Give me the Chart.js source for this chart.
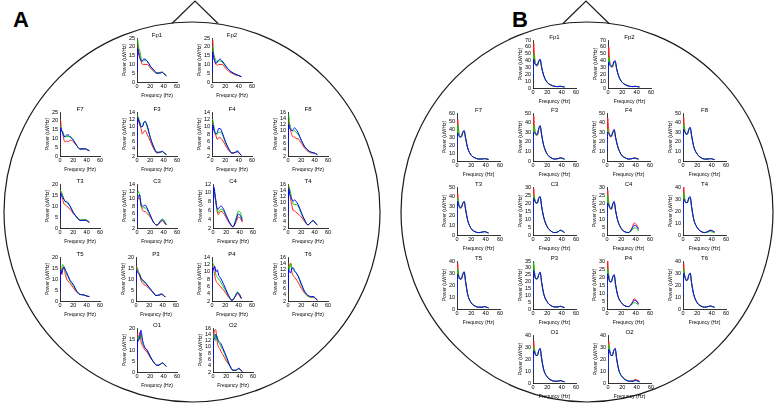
<!DOCTYPE html>
<html><head><meta charset="utf-8">
<script src="https://cdn.jsdelivr.net/npm/chart.js@4"></script>
<style>
html,body{margin:0;padding:0;background:#fff;}
#stage{position:relative;width:778px;height:403px;overflow:hidden;background:#fff;}
#stage canvas{position:absolute;}
#head{position:absolute;left:0;top:0;}
.panel{position:absolute;font:bold 22px Arial,"Liberation Sans",sans-serif;color:#000;line-height:22px;}
</style></head><body>
<div id="stage">
<svg id="head" width="778" height="403">
  <ellipse cx="192" cy="212" rx="188" ry="190" fill="none" stroke="#1a1a1a" stroke-width="1.2"/>
  <polyline points="172,23.5 195,1 218,23.5" fill="none" stroke="#1a1a1a" stroke-width="1.2"/>
  <ellipse cx="587" cy="212" rx="186" ry="190" fill="none" stroke="#1a1a1a" stroke-width="1.2"/>
  <polyline points="563,23.5 586,1 609,23.5" fill="none" stroke="#1a1a1a" stroke-width="1.2"/>
</svg>
<div class="panel" style="left:13px;top:9px">A</div>
<div class="panel" style="left:512px;top:9px">B</div>
</div>
<script>
// ---- data ----
const freq = [0, 1, 2, 3, 4, 6, 8, 10, 12, 15, 20, 25, 30, 35, 38, 41, 44];
const xTicks = [0, 20, 40, 60];
const channels = ["Fp1","Fp2","F7","F3","F4","F8","T3","C3","C4","T4","T5","P3","P4","T6","O1","O2"];
const seriesColors = ["#ff2020", "#00d000", "#0000ff"];

// Panel A y-axis ranges
const A_yMin  = [0, 0, 0, 2, 2, 2, 0, 2, 2, 2, 0, 0, 2, 2, 0, 2];
const A_yMax  = [25, 25, 25, 14, 14, 16, 20, 14, 12, 16, 20, 20, 14, 16, 20, 16];
const A_yStep = [5, 5, 5, 2, 2, 2, 5, 2, 2, 2, 5, 5, 2, 2, 5, 2];
// Panel B y-axis ranges
const B_yMin  = [0, 0, 0, 0, 0, 0, 0, 0, 0, 0, 0, 0, 0, 0, 0, 0];
const B_yMax  = [70, 70, 60, 50, 50, 50, 50, 30, 30, 40, 40, 35, 30, 40, 40, 40];
const B_yStep = [10, 10, 10, 10, 10, 10, 10, 5, 5, 10, 10, 5, 5, 10, 10, 10];

// Panel A values (red, green, blue)
const A_Fp1_r = [22, 22, 19, 17, 15, 12, 10, 10, 10, 10, 8, 6, 5, 5.5, 5.5, 4.5, 3.5];
const A_Fp1_g = [24, 24, 21, 19, 18, 14, 12, 12, 12.5, 12, 9, 6.5, 5, 5.5, 5.5, 4.5, 3.8];
const A_Fp1_b = [5, 19, 17, 15, 14, 12, 12, 13, 13, 12, 9, 7, 5, 5, 5.5, 4.5, 3.5];
const A_Fp2_r = [24, 24, 18, 14, 12, 10, 9.5, 10, 10, 10, 8, 6, 5, 4, 3.8, 3.5, 3];
const A_Fp2_g = [20, 20, 17, 15, 14, 12, 11, 12, 12, 11.5, 9, 7, 5.5, 4.5, 4, 3.5, 3];
const A_Fp2_b = [5, 17, 15, 13, 12, 10.5, 11.5, 12.5, 13, 12, 9.5, 7, 5.5, 4.5, 4, 3.5, 3];
const A_F7_r = [20, 20, 15, 14, 13, 9, 8, 8.5, 8, 9, 8, 6, 4, 4, 4, 3.5, 3];
const A_F7_g = [17, 17, 15, 14.5, 14, 12, 11, 11, 11, 11, 9, 6, 4, 4, 4, 3.5, 3];
const A_F7_b = [8, 16, 15, 14, 13, 11, 11, 12, 12, 11, 9, 6, 4, 4, 4.2, 3.5, 3];
const A_F3_r = [12.5, 12.5, 12, 11, 10.5, 9.5, 8, 8.5, 9, 8, 6, 4, 2.8, 3, 3.2, 2.7, 2.4];
const A_F3_g = [13, 13, 12.5, 12, 11.5, 10, 10, 11, 11.3, 10, 7, 4.5, 3, 3, 3.2, 2.8, 2.4];
const A_F3_b = [4, 12.5, 12, 11.5, 11, 10, 10, 11, 11.5, 10.5, 7, 4.5, 3, 3.1, 3.3, 2.8, 2.4];
const A_F4_r = [11, 11, 10, 9, 8.5, 7.5, 6.5, 7, 7, 6.5, 5, 3.5, 2.8, 3, 3.1, 2.7, 2.2];
const A_F4_g = [12, 12, 11, 10, 9, 8, 8, 8.5, 8.5, 8, 5.8, 4, 2.8, 3, 3.3, 2.7, 2.2];
const A_F4_b = [4, 10.5, 10, 9, 8.5, 8, 8.5, 9.5, 9.5, 8.5, 6, 4, 2.8, 3, 3.4, 2.8, 2.2];
const A_F8_r = [13, 13, 12, 11, 10, 8.5, 8, 8, 7.5, 7.5, 6, 4.5, 3.5, 3, 3, 2.8, 2.4];
const A_F8_g = [15, 15, 13, 12, 11, 10, 10, 10, 9.5, 9, 7, 5, 3.8, 3.2, 3, 2.8, 2.4];
const A_F8_b = [4, 12, 11, 10.5, 10.5, 10, 10.5, 11, 10.5, 9.5, 7, 5, 3.8, 3.2, 3, 2.8, 2.4];
const A_T3_r = [16.5, 16.5, 15, 14, 13, 11, 10.5, 10, 9.5, 8.5, 6.5, 5, 3.5, 3.5, 3.5, 3, 2.5];
const A_T3_g = [17, 17, 16.5, 16, 15, 13, 12, 11.5, 11, 10, 7, 5, 3.5, 3.8, 3.8, 3.5, 2.8];
const A_T3_b = [4, 16, 15, 14.5, 14, 13, 12, 12, 11.5, 10, 7, 5, 3.5, 3.5, 3.5, 3.2, 2.5];
const A_C3_r = [10.5, 10.5, 10, 10, 10, 8, 7, 6.5, 6.5, 6, 5, 3.5, 2.8, 3.5, 4, 3.5, 2.8];
const A_C3_g = [11.5, 11.5, 12, 11.5, 11, 8.5, 7.5, 7.5, 7.5, 7, 5.2, 3.5, 2.8, 4, 4.5, 4, 3];
const A_C3_b = [3, 10, 10.5, 11, 11, 8.5, 8, 8, 8.3, 7.5, 5.5, 3.5, 2.8, 3.8, 4.2, 3.5, 2.9];
const A_C4_r = [11, 11, 10.5, 9, 8, 6, 5, 5.5, 5.8, 5.5, 4.3, 3, 2.2, 3.5, 4.5, 4.2, 3.3];
const A_C4_g = [11, 11, 10.5, 9.5, 8.5, 6.5, 5.5, 6, 6.3, 6, 4.7, 3.2, 2.3, 4.5, 5.8, 5.5, 4];
const A_C4_b = [5.5, 11.3, 11, 9.5, 8.5, 6.5, 6.3, 6.8, 7, 6.5, 4.8, 3.2, 2.3, 4, 5.2, 4.8, 3.6];
const A_T4_r = [15, 15, 14, 12.5, 11, 9, 7.5, 7.5, 7, 6.5, 5.5, 4, 3, 4, 4.3, 3.5, 3];
const A_T4_g = [15.5, 15.5, 15, 14, 13, 11, 9.5, 9.5, 9.5, 9, 6.5, 4.5, 3, 4, 4.3, 3.5, 3];
const A_T4_b = [6, 14.5, 13.5, 12.5, 12, 11, 10.5, 11, 10.5, 9.5, 7, 4.5, 3, 4, 4.4, 3.6, 3];
const A_T5_r = [15, 15, 14, 12, 15, 15, 12, 10, 9, 8, 6, 4, 3, 2.8, 2.5, 2.2, 2];
const A_T5_g = [14, 14, 13, 15, 16.5, 15.5, 14, 12, 11, 9, 7, 4.5, 3, 2.8, 2.5, 2.2, 2];
const A_T5_b = [4, 14, 12.5, 13, 14, 15.5, 14, 13, 11.5, 9.5, 7.5, 4.5, 3, 2.8, 2.5, 2.2, 2];
const A_P3_r = [15.5, 15.5, 15, 14, 13, 11, 9, 8, 7.5, 7, 5.5, 4, 2.5, 2.5, 3, 2.5, 1.8];
const A_P3_g = [15, 15, 14, 13.5, 13, 12, 10, 9, 8.5, 8, 6, 4.2, 2.5, 2.8, 3.2, 2.7, 1.8];
const A_P3_b = [8, 14, 13, 12.8, 12.5, 11.5, 10, 9.5, 9, 8, 6, 4.2, 2.5, 2.8, 3.2, 2.7, 1.8];
const A_P4_r = [11.5, 11.5, 11, 10, 9, 7.5, 7, 6.5, 6, 5.5, 4.3, 3, 2.1, 3.3, 4, 3.5, 2.6];
const A_P4_g = [12.5, 12.5, 12, 11.5, 11, 9, 8.5, 8, 7.5, 6.5, 5, 3.3, 2.2, 3.5, 4.5, 4, 2.8];
const A_P4_b = [5, 11, 10.5, 11, 11.5, 10, 10.5, 9, 8.5, 7.5, 5.5, 3.5, 2.2, 3.3, 4.2, 3.8, 2.7];
const A_T6_r = [14, 14, 13, 13.5, 14, 11, 10, 9.5, 9, 8, 6, 4.5, 3.5, 3.2, 3.2, 2.8, 2.2];
const A_T6_g = [13, 13, 12, 13, 14, 12.5, 12, 11.5, 11, 10, 7, 5, 3.5, 3.3, 3.3, 2.8, 2.2];
const A_T6_b = [5, 12, 11.5, 11, 11, 12.5, 12.5, 11.5, 11, 10, 7.5, 5, 3.8, 3.4, 3.4, 3, 2.2];
const A_O1_r = [17, 17, 15, 16, 18, 14, 12, 11, 10, 9, 6.5, 4.5, 3, 3.5, 4, 3.5, 2.5];
const A_O1_g = [15, 15, 16, 15, 15, 17, 14, 12, 11, 10, 7, 4.5, 3, 3.5, 4, 3.5, 2.5];
const A_O1_b = [5, 15, 14, 15, 16, 19, 15, 12.5, 11, 10, 7, 4.5, 3, 3.5, 4.2, 3.5, 2.5];
const A_O2_r = [14, 14, 15, 15.5, 15.5, 12, 10, 9.5, 8.5, 7.5, 5.5, 4, 2.5, 2.5, 3, 2.7, 2.2];
const A_O2_g = [13, 13, 14, 13, 12, 13.5, 11.5, 11, 10, 9, 6.5, 4, 2.5, 2.5, 3, 2.7, 2.2];
const A_O2_b = [5, 12, 12.5, 13, 14, 13, 12, 11.5, 11, 9.5, 7, 4.2, 2.6, 2.6, 3.2, 2.8, 2.2];

// Panel B values (red, green, blue)
const B_Fp1_r = [25, 65, 50, 38, 33, 32, 38, 40, 30, 18, 8, 4, 2.5, 2, 2.5, 2, 1.5];
const B_Fp1_g = [20, 50, 42, 36, 33, 33, 38, 41, 30, 18, 8, 4.5, 2.5, 2, 2.5, 2, 1.5];
const B_Fp1_b = [15, 42, 36, 35, 34, 34, 40, 42, 31, 18, 8, 4.5, 2.5, 2, 2.5, 2, 1.5];
const B_Fp2_r = [25, 60, 45, 35, 32, 30, 36, 38, 28, 17, 8, 4, 2.5, 2, 2.5, 2, 1.5];
const B_Fp2_g = [20, 45, 38, 33, 31, 31, 37, 38, 28, 17, 8, 4.5, 2.5, 2, 2.5, 2, 1.5];
const B_Fp2_b = [15, 38, 34, 33, 32, 32, 38, 40, 29, 17, 8, 4.5, 2.5, 2, 2.5, 2, 1.5];
const B_F7_r = [20, 52, 42, 33, 30, 30, 35, 37, 28, 16, 7, 4, 2.5, 2.5, 3, 2.5, 2];
const B_F7_g = [18, 45, 38, 32, 30, 30, 35, 38, 28, 16, 7, 4, 2.5, 2.5, 3, 2.5, 2];
const B_F7_b = [15, 35, 33, 31, 30, 31, 36, 38, 29, 16, 7, 4, 2.5, 2.5, 3, 2.5, 2];
const B_F3_r = [18, 47, 38, 30, 27, 27, 33, 36, 27, 16, 7, 3.5, 2, 2.5, 3.5, 3, 2];
const B_F3_g = [15, 37, 33, 29, 27, 27, 33, 36, 27, 16, 7, 3.5, 2, 2.5, 3, 2.5, 2];
const B_F3_b = [12, 30, 30, 29, 28, 28, 34, 37, 28, 16, 7, 3.5, 2, 2.5, 3.2, 2.8, 2];
const B_F4_r = [18, 45, 36, 29, 26, 25, 29, 31, 24, 15, 6.5, 3.5, 2, 2.5, 3.5, 3, 2];
const B_F4_g = [15, 33, 30, 28, 26, 26, 30, 32, 24, 15, 6.5, 3.5, 2, 2.5, 3, 2.5, 2];
const B_F4_b = [10, 30, 29, 28, 26, 26, 30, 33, 25, 15, 6.5, 3.5, 2, 2.5, 3, 2.5, 2];
const B_F8_r = [18, 45, 36, 30, 28, 28, 32, 34, 26, 15, 7, 3.5, 2, 2, 2.5, 2, 1.5];
const B_F8_g = [15, 38, 33, 30, 28, 28, 33, 35, 26, 15, 7, 3.5, 2, 2, 2.5, 2, 1.5];
const B_F8_b = [12, 33, 31, 30, 28, 28, 33, 35, 27, 15, 7, 3.5, 2, 2, 2.5, 2, 1.5];
const B_T3_r = [18, 43, 36, 30, 28, 28, 32, 34, 26, 15, 6.5, 3.5, 2.5, 3, 3.5, 3, 2];
const B_T3_g = [15, 38, 34, 30, 28, 29, 33, 35, 27, 15, 6.5, 3.5, 2.5, 3, 3.5, 3, 2];
const B_T3_b = [12, 35, 32, 30, 29, 29, 33, 35, 27, 15, 6.5, 3.5, 2.5, 3, 3.5, 3, 2];
const B_C3_r = [10, 29, 24, 21, 20, 20, 23, 23.5, 18, 11, 5, 2.5, 1.5, 2, 3, 2.5, 1.5];
const B_C3_g = [9, 25, 23, 21, 20, 20, 23, 24, 18, 11, 5, 2.5, 1.5, 2, 2.8, 2.3, 1.5];
const B_C3_b = [8, 23, 22, 21, 20, 20, 23, 24, 18, 11, 5, 2.5, 1.5, 2, 3, 2.5, 1.5];
const B_C4_r = [10, 28, 22, 19, 17, 16, 19, 20, 15, 9, 4, 2, 1.5, 4.5, 7.5, 6.5, 4];
const B_C4_g = [9, 25, 21, 18, 17, 16, 19, 20.5, 15, 9, 4, 2, 1.5, 3, 4.5, 4, 2.5];
const B_C4_b = [8, 20, 19, 18, 17, 16.5, 19.5, 21, 15.5, 9, 4, 2, 1.5, 4, 6, 5.5, 3.5];
const B_T4_r = [15, 40, 33, 28, 27, 27, 30, 31, 23, 13, 6, 3, 2, 3, 4, 3.5, 2.5];
const B_T4_g = [12, 35, 31, 28, 27, 27, 30, 31, 23, 13, 6, 3, 2, 2.5, 3, 2.5, 2];
const B_T4_b = [10, 30, 29, 28, 27, 27, 31, 32, 24, 13, 6, 3, 2, 3, 4, 3.5, 2.5];
const B_T5_r = [14, 38, 30, 26, 25, 25, 28, 30, 22, 12, 5, 2.5, 1.5, 1.5, 2, 1.5, 1];
const B_T5_g = [12, 33, 29, 26, 25, 25, 29, 31, 23, 12, 5, 2.5, 1.5, 1.5, 2, 1.5, 1];
const B_T5_b = [10, 29, 28, 26, 25, 25, 29, 31, 23, 12, 5, 2.5, 1.5, 1.5, 2, 1.5, 1];
const B_P3_r = [12, 32, 27, 23, 22, 22, 25, 26, 19, 11, 5, 2.5, 1.5, 1.5, 2, 1.5, 1];
const B_P3_g = [10, 34, 28, 23, 22, 22, 25, 26, 19, 11, 5, 2.5, 1.5, 1.5, 2, 1.5, 1];
const B_P3_b = [8, 28, 26, 23, 22, 22, 25, 27, 20, 11, 5, 2.5, 1.5, 1.5, 2, 1.5, 1];
const B_P4_r = [10, 30, 23, 19, 17, 17, 20, 21, 15, 8.5, 4, 2, 1.5, 4, 6.5, 5.5, 3.5];
const B_P4_g = [9, 25, 22, 19, 17, 17, 20, 21, 15, 8.5, 4, 2, 1.5, 3, 4, 3.5, 2.5];
const B_P4_b = [8, 22, 20, 18, 17, 17, 20, 21.5, 15.5, 8.5, 4, 2, 1.5, 3.5, 5.5, 5, 3];
const B_T6_r = [14, 38, 30, 26, 24, 24, 28, 29, 21, 12, 5, 2.5, 1.5, 2, 2.5, 2, 1.5];
const B_T6_g = [12, 33, 29, 26, 24, 24, 28, 30, 22, 12, 5, 2.5, 1.5, 2, 2.5, 2, 1.5];
const B_T6_b = [10, 30, 28, 26, 24, 24, 28, 30, 22, 12, 5, 2.5, 1.5, 2, 2.5, 2, 1.5];
const B_O1_r = [13, 35, 29, 25, 23, 23, 27, 28, 20, 11, 5, 2.5, 1.5, 1.5, 2, 1.5, 1];
const B_O1_g = [11, 30, 27, 25, 23, 23, 27, 28, 20, 11, 5, 2.5, 1.5, 1.5, 2, 1.5, 1];
const B_O1_b = [9, 27, 26, 24, 23, 23, 27, 29, 21, 11, 5, 2.5, 1.5, 1.5, 2, 1.5, 1];
const B_O2_r = [13, 35, 29, 25, 23, 23, 27, 28, 20, 11, 5, 2.5, 1.5, 2, 3, 2.5, 1.5];
const B_O2_g = [11, 32, 28, 25, 23, 23, 27, 28, 20, 11, 5, 2.5, 1.5, 1.5, 2, 1.5, 1];
const B_O2_b = [9, 28, 27, 25, 23, 23, 27, 29, 21, 11, 5, 2.5, 1.5, 1.5, 2.2, 1.8, 1];

// ---- tables built from the arrays ----
const A_series = [
  [A_Fp1_r, A_Fp1_g, A_Fp1_b], [A_Fp2_r, A_Fp2_g, A_Fp2_b],
  [A_F7_r, A_F7_g, A_F7_b], [A_F3_r, A_F3_g, A_F3_b], [A_F4_r, A_F4_g, A_F4_b], [A_F8_r, A_F8_g, A_F8_b],
  [A_T3_r, A_T3_g, A_T3_b], [A_C3_r, A_C3_g, A_C3_b], [A_C4_r, A_C4_g, A_C4_b], [A_T4_r, A_T4_g, A_T4_b],
  [A_T5_r, A_T5_g, A_T5_b], [A_P3_r, A_P3_g, A_P3_b], [A_P4_r, A_P4_g, A_P4_b], [A_T6_r, A_T6_g, A_T6_b],
  [A_O1_r, A_O1_g, A_O1_b], [A_O2_r, A_O2_g, A_O2_b]
];
const B_series = [
  [B_Fp1_r, B_Fp1_g, B_Fp1_b], [B_Fp2_r, B_Fp2_g, B_Fp2_b],
  [B_F7_r, B_F7_g, B_F7_b], [B_F3_r, B_F3_g, B_F3_b], [B_F4_r, B_F4_g, B_F4_b], [B_F8_r, B_F8_g, B_F8_b],
  [B_T3_r, B_T3_g, B_T3_b], [B_C3_r, B_C3_g, B_C3_b], [B_C4_r, B_C4_g, B_C4_b], [B_T4_r, B_T4_g, B_T4_b],
  [B_T5_r, B_T5_g, B_T5_b], [B_P3_r, B_P3_g, B_P3_b], [B_P4_r, B_P4_g, B_P4_b], [B_T6_r, B_T6_g, B_T6_b],
  [B_O1_r, B_O1_g, B_O1_b], [B_O2_r, B_O2_g, B_O2_b]
];

// ---- layout (positions of each small plot) ----
const A_axisX = [137, 212, 60, 137, 212, 288, 60, 137, 213, 288, 60, 136, 212, 288, 137, 213];
const A_plotTop = [38, 38, 112, 112, 112, 112, 184, 184, 184, 184, 257, 257, 257, 257, 328, 328];
const B_axisX = [533, 608, 457, 533, 607, 683, 457, 533, 607, 683, 457, 533, 607, 683, 533, 608];
const B_plotTop = [40, 40, 113, 113, 113, 113, 187, 187, 187, 187, 261, 261, 261, 261, 335, 335];

const FONT = 'Arial, "Liberation Sans", Helvetica, sans-serif';
const stage = document.getElementById('stage');
const YW = 15, TH = 7, XH = 16, RP = 7;

function makeChart(ax, top, W, H, name, yMin, yMax, yStep, series) {
  const c = document.createElement('canvas');
  c.width = YW + W + RP;
  c.height = TH + H + XH;
  c.style.left = (ax - YW) + 'px';
  c.style.top = (top - TH) + 'px';
  stage.appendChild(c);
  new Chart(c, {
    type: 'line',
    data: {
      datasets: series.map((vals, k) => ({
        data: freq.map((f, i) => ({ x: f, y: vals[i] })),
        borderColor: seriesColors[k],
        borderWidth: 1,
        pointRadius: 0,
        fill: false,
        order: 2 - k,
        cubicInterpolationMode: 'monotone'
      }))
    },
    options: {
      responsive: false,
      animation: false,
      events: [],
      layout: { padding: { left: 0, right: RP, top: 0, bottom: 0 } },
      plugins: {
        legend: { display: false },
        tooltip: { enabled: false },
        title: {
          display: true, text: name, color: '#000', fullSize: false,
          font: { family: FONT, size: 6, weight: 'normal', lineHeight: 1 },
          padding: { top: 1, bottom: 0 }
        }
      },
      scales: {
        x: {
          type: 'linear', min: 0, max: 60,
          afterBuildTicks: s => { s.ticks = xTicks.map(v => ({ value: v })); },
          ticks: { font: { family: FONT, size: 5.5 }, color: '#000', padding: 1, maxRotation: 0, autoSkip: false },
          grid: { display: false, drawTicks: false },
          border: { display: true, color: '#000', width: 0.8 },
          title: { display: true, text: 'Frequncy (Hz)', color: '#000', font: { family: FONT, size: 5, lineHeight: 1 }, padding: 0 },
          afterFit: s => { s.height = XH; }
        },
        y: {
          type: 'linear', min: yMin, max: yMax,
          ticks: { stepSize: yStep, font: { family: FONT, size: 5.5 }, color: '#000', padding: 2, autoSkip: false },
          grid: { display: false, drawTicks: false },
          border: { display: true, color: '#000', width: 0.8 },
          title: { display: true, text: 'Power (uV/Hz)', color: '#000', font: { family: FONT, size: 5, lineHeight: 1 }, padding: 0 },
          afterFit: s => { s.width = YW; }
        }
      }
    }
  });
}

channels.forEach((name, i) => {
  makeChart(A_axisX[i], A_plotTop[i], 40, 44, name, A_yMin[i], A_yMax[i], A_yStep[i], A_series[i]);
  makeChart(B_axisX[i], B_plotTop[i], 43, 48, name, B_yMin[i], B_yMax[i], B_yStep[i], B_series[i]);
});
</script>
</body></html>
